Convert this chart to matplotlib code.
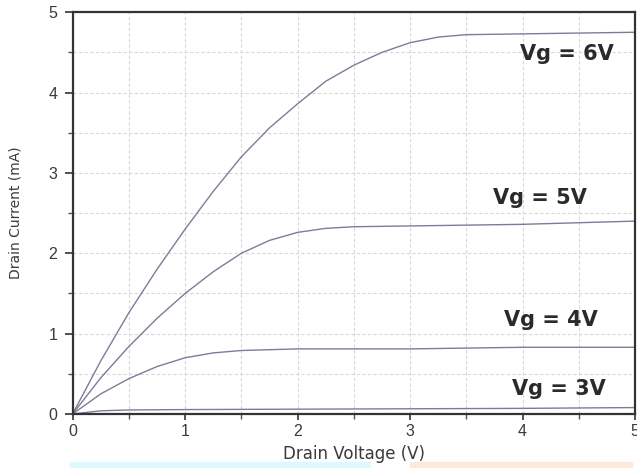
import matplotlib
matplotlib.use("Agg")
import matplotlib.pyplot as plt
from matplotlib.patches import Rectangle

# Data
vd_6 = [0, 0.25, 0.5, 0.75, 1.0, 1.25, 1.5, 1.75, 2.0, 2.25, 2.5, 2.75, 3.0, 3.25, 3.5, 4.0, 4.5, 5.0]
id_6 = [0, 0.66, 1.26, 1.80, 2.30, 2.77, 3.20, 3.56, 3.86, 4.14, 4.34, 4.50, 4.62, 4.69, 4.72, 4.73, 4.74, 4.75]

vd_5 = [0, 0.25, 0.5, 0.75, 1.0, 1.25, 1.5, 1.75, 2.0, 2.25, 2.5, 3.0, 3.5, 4.0, 4.5, 5.0]
id_5 = [0, 0.45, 0.84, 1.19, 1.50, 1.77, 2.00, 2.16, 2.26, 2.31, 2.33, 2.34, 2.35, 2.36, 2.38, 2.40]

vd_4 = [0, 0.25, 0.5, 0.75, 1.0, 1.25, 1.5, 2.0, 3.0, 4.0, 5.0]
id_4 = [0, 0.25, 0.44, 0.59, 0.70, 0.76, 0.79, 0.81, 0.81, 0.83, 0.83]

vd_3 = [0, 0.25, 0.5, 1.0, 2.0, 3.0, 4.0, 4.5, 5.0]
id_3 = [0, 0.04, 0.05, 0.055, 0.06, 0.065, 0.07, 0.075, 0.08]

labels = ["Vg = 6V", "Vg = 5V", "Vg = 4V", "Vg = 3V"]
label_x = [4.39, 4.15, 4.25, 4.32]
label_y = [4.40, 2.61, 1.09, 0.24]

x_ticks = [0, 1, 2, 3, 4, 5]
y_ticks = [0, 1, 2, 3, 4, 5]

fig = plt.figure(figsize=(6.37, 4.68), dpi=100)
ax = fig.add_axes([0.114, 0.1154, 0.883, 0.8586])

line_color = "#7c7c98"
for xs, ys in [(vd_6, id_6), (vd_5, id_5), (vd_4, id_4), (vd_3, id_3)]:
    ax.plot(xs, ys, color=line_color, lw=1.0)

for t, x, y in zip(labels, label_x, label_y):
    ax.text(x, y, t, ha="center", va="baseline", fontsize=15,
            fontweight="bold", family="DejaVu Sans", color="#2a2a2a")

ax.set_xlim(0, 5)
ax.set_ylim(0, 5)
ax.set_xticks(x_ticks)
ax.set_yticks(y_ticks)
ax.set_xticks([0.5, 1.5, 2.5, 3.5, 4.5], minor=True)
ax.set_yticks([0.5, 1.5, 2.5, 3.5, 4.5], minor=True)
ax.grid(True, which="both", color="#d8d8d8", ls=(0, (3, 2)), lw=0.8)
ax.set_axisbelow(True)

ax.tick_params(axis="y", which="major", direction="out", length=6, width=1.2,
               color="#333333", labelsize=11.5, labelcolor="#3a3a3a", pad=5)
ax.tick_params(axis="x", which="major", direction="out", length=4, width=1.2,
               color="#333333", labelsize=11.5, labelcolor="#3a3a3a", pad=3)
ax.tick_params(which="minor", direction="out", length=3.5, width=1.0, color="#555555")
for lab in ax.get_xticklabels() + ax.get_yticklabels():
    lab.set_family("Liberation Sans")

for s in ax.spines.values():
    s.set_color("#333333")
    s.set_linewidth(1.6)

ax.set_xlabel("Drain Voltage (V)", fontsize=12, family="DejaVu Sans",
              color="#3a3a3a")
ax.set_ylabel("Drain Current (mA)", fontsize=10, family="DejaVu Sans",
              color="#3a3a3a")
ax.xaxis.set_label_coords(0.5, -0.078)
ax.yaxis.set_label_coords(-0.089, 0.5)

# faint coloured strips along the bottom edge
fig.patches.append(Rectangle((70 / 637, 0), 300 / 637, 6 / 468,
                             transform=fig.transFigure, color="#dff8fd", zorder=-1))
fig.patches.append(Rectangle((410 / 637, 0), 222 / 637, 6 / 468,
                             transform=fig.transFigure, color="#fde9dc", zorder=-1))

fig.savefig("out.png", dpi=100)
